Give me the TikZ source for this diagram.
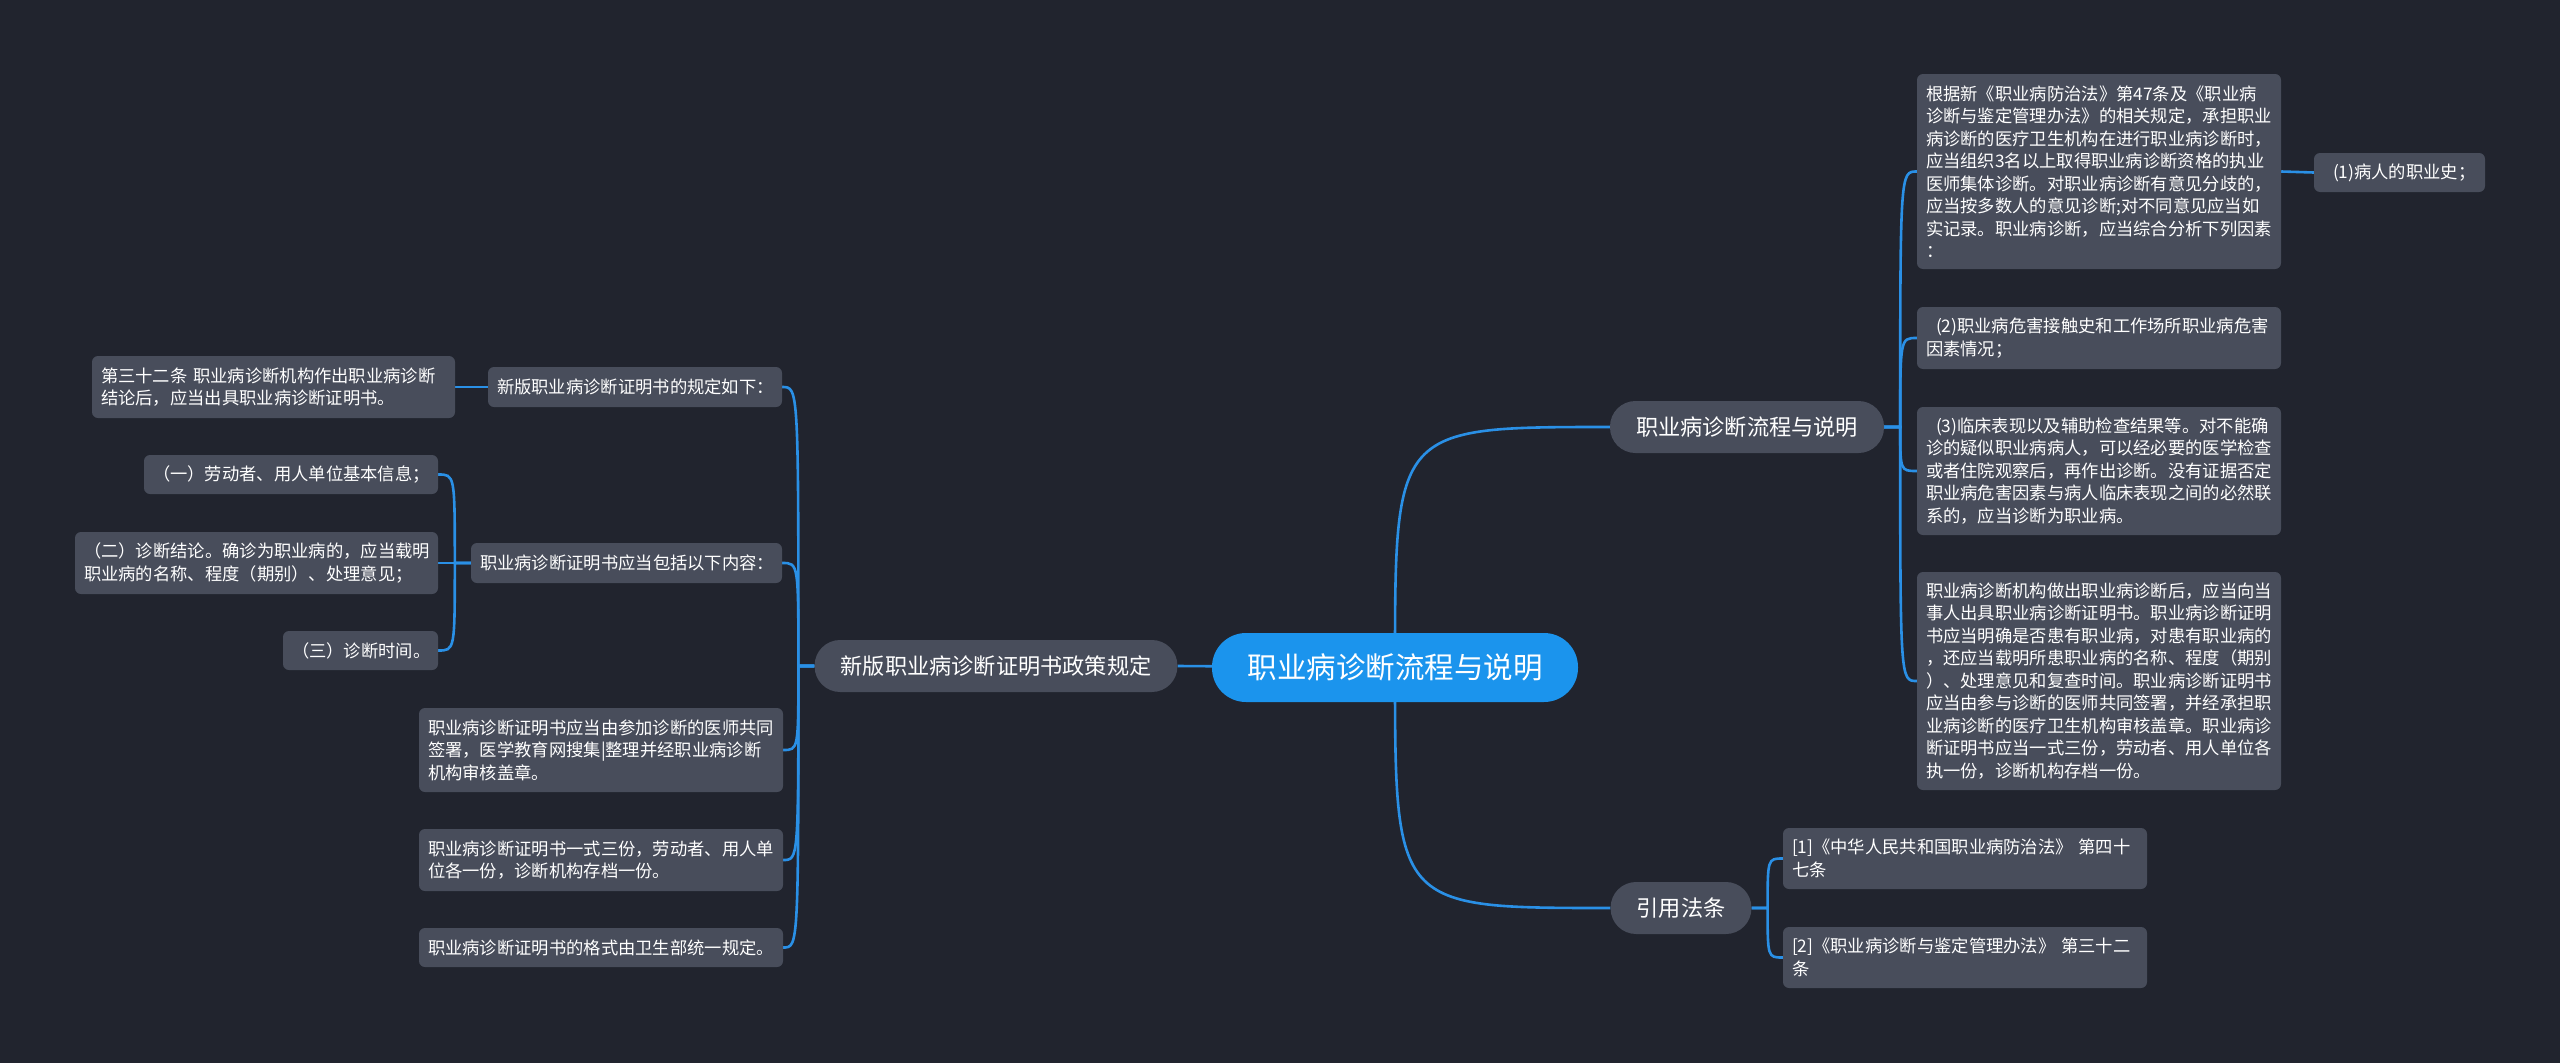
\documentclass[tikz,border=0pt]{standalone}
\usepackage{fontspec}
\newfontfamily\cjk{Noto Sans CJK SC}
\usepackage{xcolor}
\usepackage{tikz}
\usetikzlibrary{backgrounds,calc}

\definecolor{bgdark}{HTML}{21242E}
\definecolor{boxgray}{HTML}{484D5B}
\definecolor{rootblue}{HTML}{1B94ED}
\definecolor{linkblue}{HTML}{2A90E6}

\begin{document}
\begin{tikzpicture}[x=1pt,y=-1pt,
  leaf/.style={fill=boxgray, rounded corners=6pt, text=white, align=left,
    inner xsep=9pt, inner ysep=2pt, font=\cjk\fontsize{17.3}{22.5}\selectfont},
  branch/.style={fill=boxgray, rounded corners=25.5pt, text=white, minimum height=52pt,
    inner xsep=26pt, font=\cjk\fontsize{22.2}{26}\selectfont},
  rootnode/.style={fill=rootblue, rounded corners=34pt, text=white, minimum height=69pt,
    inner xsep=35.5pt, font=\cjk\fontsize{29.5}{34}\selectfont},
  link/.style={draw=linkblue, line width=2.6pt}]
  \useasboundingbox (0,0) rectangle (2560,1063);

  \node[rootnode] (root) at (1395,667.5) {职业病诊断流程与说明};
  \node[branch] (flow) at (1747,427) {职业病诊断流程与说明};
  \node[branch] (law) at (1681,908) {引用法条};
  \node[branch] (cert) at (996,666) {新版职业病诊断证明书政策规定};

  % right side
  \node[leaf, text width=346pt, minimum height=195pt] (fa) at (2099,171.5)
    {根据新《职业病防治法》第47条及《职业病\\诊断与鉴定管理办法》的相关规定，承担职业\\病诊断的医疗卫生机构在进行职业病诊断时，\\应当组织3名以上取得职业病诊断资格的执业\\医师集体诊断。对职业病诊断有意见分歧的，\\应当按多数人的意见诊断;对不同意见应当如\\实记录。职业病诊断，应当综合分析下列因素\\：};
  \node[leaf, text width=153pt, minimum height=39pt] (history) at (2399.5,172.5)
    {\hspace*{10pt}(1)病人的职业史；};
  \node[leaf, text width=346pt, minimum height=62pt] (fb) at (2099,338)
    {\hspace*{10pt}(2)职业病危害接触史和工作场所职业病危害\\因素情况；};
  \node[leaf, text width=346pt, minimum height=128pt] (fc) at (2099,471)
    {\hspace*{10pt}(3)临床表现以及辅助检查结果等。对不能确\\诊的疑似职业病病人，可以经必要的医学检查\\或者住院观察后，再作出诊断。没有证据否定\\职业病危害因素与病人临床表现之间的必然联\\系的，应当诊断为职业病。};
  \node[leaf, text width=346pt, minimum height=218pt] (fd) at (2099,681)
    {职业病诊断机构做出职业病诊断后，应当向当\\事人出具职业病诊断证明书。职业病诊断证明\\书应当明确是否患有职业病，对患有职业病的\\，还应当载明所患职业病的名称、程度（期别\\）、处理意见和复查时间。职业病诊断证明书\\应当由参与诊断的医师共同签署，并经承担职\\业病诊断的医疗卫生机构审核盖章。职业病诊\\断证明书应当一式三份，劳动者、用人单位各\\执一份，诊断机构存档一份。};
  \node[leaf, text width=346pt, minimum height=61pt] (lawa) at (1965,858.5)
    {[1]《中华人民共和国职业病防治法》~第四十\\七条};
  \node[leaf, text width=346pt, minimum height=61pt] (lawb) at (1965,957.5)
    {[2]《职业病诊断与鉴定管理办法》~第三十二\\条};

  % left side
  \node[leaf, text width=276pt, minimum height=40pt] (rules) at (635,387)
    {新版职业病诊断证明书的规定如下：};
  \node[leaf, text width=345pt, minimum height=62pt] (art) at (273.5,387)
    {第三十二条 职业病诊断机构作出职业病诊断\\结论后，应当出具职业病诊断证明书。};
  \node[leaf, text width=293pt, minimum height=40pt] (items) at (626.5,563)
    {职业病诊断证明书应当包括以下内容：};
  \node[leaf, text width=276pt, minimum height=39pt] (itema) at (291,474.5)
    {（一）劳动者、用人单位基本信息；};
  \node[leaf, text width=345pt, minimum height=62pt] (itemb) at (256.5,563)
    {（二）诊断结论。确诊为职业病的，应当载明\\职业病的名称、程度（期别）、处理意见；};
  \node[leaf, text width=137pt, minimum height=39pt] (itemc) at (360.5,650.5)
    {（三）诊断时间。};
  \node[leaf, text width=346pt, minimum height=84pt] (sign) at (601,750)
    {职业病诊断证明书应当由参加诊断的医师共同\\签署，医学教育网搜集|整理并经职业病诊断\\机构审核盖章。};
  \node[leaf, text width=346pt, minimum height=62pt] (copies) at (601,860)
    {职业病诊断证明书一式三份，劳动者、用人单\\位各一份，诊断机构存档一份。};
  \node[leaf, text width=346pt, minimum height=39pt] (format) at (601,947.5)
    {职业病诊断证明书的格式由卫生部统一规定。};

  \begin{scope}[on background layer]
    \fill[bgdark] (0,0) rectangle (2560,1063);
    \draw[link] (root.center) .. controls (root.center |- flow.west) .. (flow.west);
    \draw[link] (root.center) .. controls (root.center |- law.west) .. (law.west);
    \draw[link] (root.center) -- (cert.east);
    \foreach \c in {fa,fb,fc,fd}
      \draw[link] (flow.east) -- ++(16,0) .. controls ([xshift=16pt]flow.east |- \c.west) .. (\c.west);
    \draw[link] (fa.east) -- (history.west);
    \foreach \c in {lawa,lawb}
      \draw[link] (law.east) -- ++(16,0) .. controls ([xshift=16pt]law.east |- \c.west) .. (\c.west);
    \foreach \c in {rules,items,sign,copies,format}
      \draw[link] (cert.west) -- ++(-16,0) .. controls ([xshift=-16pt]cert.west |- \c.east) .. (\c.east);
    \draw[link] (rules.west) -- (art.east);
    \foreach \c in {itema,itemb,itemc}
      \draw[link] (items.west) -- ++(-16,0) .. controls ([xshift=-16pt]items.west |- \c.east) .. (\c.east);
  \end{scope}
\end{tikzpicture}
\end{document}
